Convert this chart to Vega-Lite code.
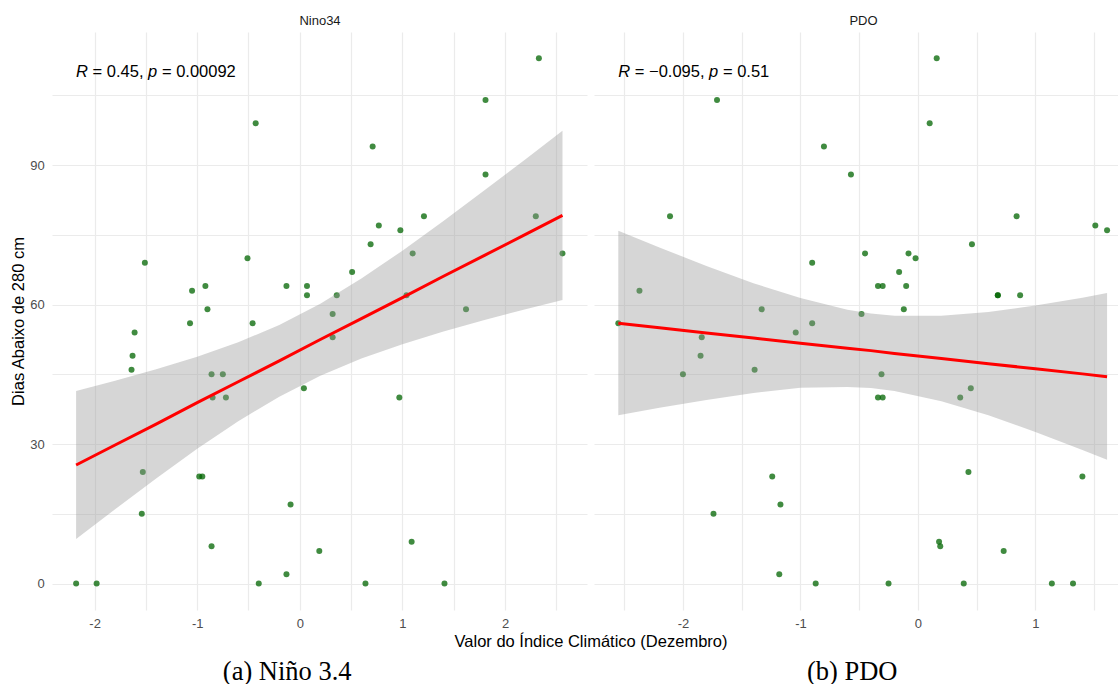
{
  "$schema": "https://vega.github.io/schema/vega-lite/v6.json",
  "background": "#FFFFFF",
  "padding": {"left": 10, "top": 14, "right": 0, "bottom": 0},
  "autosize": {"type": "pad"},
  "spacing": 7,
  "bounds": "flush",
  "config": {
    "view": {"stroke": null},
    "font": "Liberation Sans",
    "axis": {
      "domain": false,
      "ticks": false,
      "gridColor": "#EBEBEB",
      "gridWidth": 1.2,
      "labelColor": "#4D4D4D",
      "labelFontSize": 13,
      "labelFont": "Liberation Sans",
      "labelOverlap": false,
      "labelFlush": false,
      "titleFont": "Liberation Sans",
      "titleFontWeight": "normal",
      "titleColor": "#000000",
      "titleFontSize": 16.5
    },
    "text": {"font": "Liberation Sans", "fontSize": 16.5, "color": "#000000", "align": "left", "baseline": "middle"}
  },
  "datasets": {
    "pts": [
      {"indice": "Nino34", "x": 2.33, "dias": 113}, {"indice": "Nino34", "x": 1.81, "dias": 104},
      {"indice": "Nino34", "x": -0.43, "dias": 99}, {"indice": "Nino34", "x": 0.71, "dias": 94},
      {"indice": "Nino34", "x": 1.81, "dias": 88}, {"indice": "Nino34", "x": 2.30, "dias": 79},
      {"indice": "Nino34", "x": 1.21, "dias": 79}, {"indice": "Nino34", "x": 0.77, "dias": 77},
      {"indice": "Nino34", "x": 0.98, "dias": 76}, {"indice": "Nino34", "x": 0.69, "dias": 73},
      {"indice": "Nino34", "x": 1.10, "dias": 71}, {"indice": "Nino34", "x": 2.56, "dias": 71},
      {"indice": "Nino34", "x": -1.51, "dias": 69}, {"indice": "Nino34", "x": -0.51, "dias": 70},
      {"indice": "Nino34", "x": 0.51, "dias": 67}, {"indice": "Nino34", "x": -1.05, "dias": 63},
      {"indice": "Nino34", "x": -0.92, "dias": 64}, {"indice": "Nino34", "x": -0.13, "dias": 64},
      {"indice": "Nino34", "x": 0.07, "dias": 64}, {"indice": "Nino34", "x": 0.07, "dias": 62},
      {"indice": "Nino34", "x": 0.36, "dias": 62}, {"indice": "Nino34", "x": 1.04, "dias": 62},
      {"indice": "Nino34", "x": -0.90, "dias": 59}, {"indice": "Nino34", "x": 1.62, "dias": 59},
      {"indice": "Nino34", "x": 0.32, "dias": 58}, {"indice": "Nino34", "x": -1.07, "dias": 56},
      {"indice": "Nino34", "x": -0.46, "dias": 56}, {"indice": "Nino34", "x": -1.61, "dias": 54},
      {"indice": "Nino34", "x": 0.32, "dias": 53}, {"indice": "Nino34", "x": -1.63, "dias": 49},
      {"indice": "Nino34", "x": -1.64, "dias": 46}, {"indice": "Nino34", "x": -0.86, "dias": 45},
      {"indice": "Nino34", "x": -0.75, "dias": 45}, {"indice": "Nino34", "x": 0.04, "dias": 42},
      {"indice": "Nino34", "x": -0.85, "dias": 40}, {"indice": "Nino34", "x": -0.72, "dias": 40},
      {"indice": "Nino34", "x": 0.97, "dias": 40}, {"indice": "Nino34", "x": -1.53, "dias": 24},
      {"indice": "Nino34", "x": -0.98, "dias": 23}, {"indice": "Nino34", "x": -0.95, "dias": 23},
      {"indice": "Nino34", "x": -0.09, "dias": 17}, {"indice": "Nino34", "x": -1.54, "dias": 15},
      {"indice": "Nino34", "x": 1.09, "dias": 9}, {"indice": "Nino34", "x": -0.86, "dias": 8},
      {"indice": "Nino34", "x": 0.19, "dias": 7}, {"indice": "Nino34", "x": -0.13, "dias": 2},
      {"indice": "Nino34", "x": -2.18, "dias": 0}, {"indice": "Nino34", "x": -1.98, "dias": 0},
      {"indice": "Nino34", "x": -0.40, "dias": 0}, {"indice": "Nino34", "x": 0.64, "dias": 0},
      {"indice": "Nino34", "x": 1.41, "dias": 0},
      {"indice": "PDO", "x": 0.16, "dias": 113}, {"indice": "PDO", "x": -1.71, "dias": 104},
      {"indice": "PDO", "x": 0.10, "dias": 99}, {"indice": "PDO", "x": -0.80, "dias": 94},
      {"indice": "PDO", "x": -0.57, "dias": 88}, {"indice": "PDO", "x": -2.11, "dias": 79},
      {"indice": "PDO", "x": 0.84, "dias": 79}, {"indice": "PDO", "x": 1.51, "dias": 77},
      {"indice": "PDO", "x": 1.61, "dias": 76}, {"indice": "PDO", "x": 0.46, "dias": 73},
      {"indice": "PDO", "x": -0.45, "dias": 71}, {"indice": "PDO", "x": -0.08, "dias": 71},
      {"indice": "PDO", "x": -0.02, "dias": 70}, {"indice": "PDO", "x": -0.90, "dias": 69},
      {"indice": "PDO", "x": -0.16, "dias": 67}, {"indice": "PDO", "x": -0.34, "dias": 64},
      {"indice": "PDO", "x": -0.30, "dias": 64}, {"indice": "PDO", "x": -0.10, "dias": 64},
      {"indice": "PDO", "x": -2.37, "dias": 63}, {"indice": "PDO", "x": 0.68, "dias": 62},
      {"indice": "PDO", "x": 0.68, "dias": 62}, {"indice": "PDO", "x": 0.87, "dias": 62},
      {"indice": "PDO", "x": -1.33, "dias": 59}, {"indice": "PDO", "x": -0.12, "dias": 59},
      {"indice": "PDO", "x": -0.48, "dias": 58}, {"indice": "PDO", "x": -2.55, "dias": 56},
      {"indice": "PDO", "x": -0.90, "dias": 56}, {"indice": "PDO", "x": -1.04, "dias": 54},
      {"indice": "PDO", "x": -1.84, "dias": 53}, {"indice": "PDO", "x": -1.85, "dias": 49},
      {"indice": "PDO", "x": -1.39, "dias": 46}, {"indice": "PDO", "x": -2.00, "dias": 45},
      {"indice": "PDO", "x": -0.31, "dias": 45}, {"indice": "PDO", "x": 0.45, "dias": 42},
      {"indice": "PDO", "x": -0.34, "dias": 40}, {"indice": "PDO", "x": -0.30, "dias": 40},
      {"indice": "PDO", "x": 0.36, "dias": 40}, {"indice": "PDO", "x": 0.43, "dias": 24},
      {"indice": "PDO", "x": -1.24, "dias": 23}, {"indice": "PDO", "x": 1.40, "dias": 23},
      {"indice": "PDO", "x": -1.17, "dias": 17}, {"indice": "PDO", "x": -1.74, "dias": 15},
      {"indice": "PDO", "x": 0.18, "dias": 9}, {"indice": "PDO", "x": 0.19, "dias": 8},
      {"indice": "PDO", "x": 0.73, "dias": 7}, {"indice": "PDO", "x": -1.18, "dias": 2},
      {"indice": "PDO", "x": -0.87, "dias": 0}, {"indice": "PDO", "x": -0.25, "dias": 0},
      {"indice": "PDO", "x": 0.39, "dias": 0}, {"indice": "PDO", "x": 1.14, "dias": 0},
      {"indice": "PDO", "x": 1.32, "dias": 0}
    ],
    "band": [
      {"indice": "Nino34", "x": -2.18, "lo": 9.6, "hi": 41.4, "fit": 25.5},
      {"indice": "Nino34", "x": -1.8, "lo": 16.0, "hi": 43.6, "fit": 29.8},
      {"indice": "Nino34", "x": -1.4, "lo": 22.6, "hi": 46.1, "fit": 34.3},
      {"indice": "Nino34", "x": -1.0, "lo": 29.0, "hi": 48.8, "fit": 38.9},
      {"indice": "Nino34", "x": -0.6, "lo": 34.9, "hi": 51.9, "fit": 43.4},
      {"indice": "Nino34", "x": -0.2, "lo": 40.2, "hi": 55.6, "fit": 47.9},
      {"indice": "Nino34", "x": 0.2, "lo": 44.7, "hi": 60.2, "fit": 52.5},
      {"indice": "Nino34", "x": 0.6, "lo": 48.4, "hi": 65.6, "fit": 57.0},
      {"indice": "Nino34", "x": 1.0, "lo": 51.5, "hi": 71.6, "fit": 61.5},
      {"indice": "Nino34", "x": 1.4, "lo": 54.2, "hi": 78.0, "fit": 66.1},
      {"indice": "Nino34", "x": 1.8, "lo": 56.7, "hi": 84.6, "fit": 70.6},
      {"indice": "Nino34", "x": 2.2, "lo": 59.0, "hi": 91.3, "fit": 75.1},
      {"indice": "Nino34", "x": 2.56, "lo": 61.0, "hi": 97.4, "fit": 79.2},
      {"indice": "PDO", "x": -2.55, "lo": 36.2, "hi": 75.9, "fit": 56.0},
      {"indice": "PDO", "x": -2.2, "lo": 37.8, "hi": 72.3, "fit": 55.0},
      {"indice": "PDO", "x": -1.8, "lo": 39.5, "hi": 68.3, "fit": 53.9},
      {"indice": "PDO", "x": -1.4, "lo": 41.0, "hi": 64.6, "fit": 52.8},
      {"indice": "PDO", "x": -1.0, "lo": 42.1, "hi": 61.4, "fit": 51.7},
      {"indice": "PDO", "x": -0.6, "lo": 42.3, "hi": 58.9, "fit": 50.6},
      {"indice": "PDO", "x": -0.4, "lo": 42.05, "hi": 58.1, "fit": 50.1},
      {"indice": "PDO", "x": -0.2, "lo": 41.4, "hi": 57.6, "fit": 49.5},
      {"indice": "PDO", "x": 0.2, "lo": 39.2, "hi": 57.6, "fit": 48.4},
      {"indice": "PDO", "x": 0.6, "lo": 36.2, "hi": 58.4, "fit": 47.3},
      {"indice": "PDO", "x": 1.0, "lo": 32.6, "hi": 59.8, "fit": 46.2},
      {"indice": "PDO", "x": 1.4, "lo": 28.7, "hi": 61.5, "fit": 45.1},
      {"indice": "PDO", "x": 1.61, "lo": 26.6, "hi": 62.5, "fit": 44.5}
    ],
    "annL": [{"x": -2.18, "y": 110}],
    "annR": [{"x": -2.55, "y": 110}]
  },
  "hconcat": [
    {
      "width": 535,
      "height": 578,
      "title": {"text": "(a) Niño 3.4", "orient": "bottom", "anchor": "middle", "offset": 9.2, "dx": -32.3, "font": "Liberation Serif", "fontSize": 26.5, "fontWeight": "normal", "color": "#000000"},
      "resolve": {"axis": {"x": "independent", "y": "independent"}},
      "encoding": {
        "x": {"field": "x", "type": "quantitative", "scale": {"domain": [-2.415, 2.799], "nice": false, "zero": false}, "axis": null}
      },
      "layer": [
        {
          "data": {"name": "pts"},
          "transform": [{"filter": "datum.indice === 'Nino34'"}],
          "mark": {"type": "circle", "size": 36, "color": "#006400", "opacity": 0.75},
          "encoding": {
            "x": {"field": "x", "type": "quantitative", "scale": {"domain": [-2.415, 2.799], "nice": false, "zero": false},
              "axis": {"orient": "bottom", "values": [-2, -1.5, -1, -0.5, 0, 0.5, 1, 1.5, 2, 2.5], "labelExpr": "datum.value % 1 === 0 ? '' + datum.value : ''", "labelPadding": 7, "grid": true,
                "title": "Valor do Índice Climático (Dezembro)", "titleX": 538.5, "titleY": 36, "titleAlign": "center", "titleBaseline": "alphabetic", "titleAnchor": null}},
            "y": {"field": "dias", "type": "quantitative", "scale": {"domain": [-5.7, 118.65], "nice": false, "zero": false},
              "axis": {"values": [0, 15, 30, 45, 60, 75, 90, 105], "labelExpr": "datum.value % 30 === 0 ? '' + datum.value : ''", "labelPadding": 7.8, "grid": true,
                "title": "Dias Abaixo de 280 cm", "titleX": -28.5, "titleY": 289, "titleAlign": "center", "titleBaseline": "alphabetic", "titleAngle": -90, "titleAnchor": null}}
          }
        },
        {
          "data": {"name": "band"},
          "transform": [{"filter": "datum.indice === 'Nino34'"}],
          "mark": {"type": "area", "color": "#999999", "opacity": 0.4},
          "encoding": {
            "x": {"field": "x", "type": "quantitative", "scale": {"domain": [-2.415, 2.799], "nice": false, "zero": false},
              "axis": {"orient": "top", "title": "Nino34", "labels": false, "grid": false, "titleY": -7.2, "titleBaseline": "alphabetic", "titleFontSize": 13, "titleColor": "#1A1A1A"}},
            "y": {"field": "lo", "type": "quantitative", "scale": {"domain": [-5.7, 118.65], "nice": false, "zero": false}, "axis": null},
            "y2": {"field": "hi"}
          }
        },
        {
          "data": {"name": "band"},
          "transform": [{"filter": "datum.indice === 'Nino34'"}],
          "mark": {"type": "line", "color": "#FF0000", "strokeWidth": 3},
          "encoding": {
            "y": {"field": "fit", "type": "quantitative", "scale": {"domain": [-5.7, 118.65], "nice": false, "zero": false}, "axis": null}
          }
        },
        {
          "data": {"name": "annL"},
          "mark": {"type": "text", "fontStyle": "italic", "text": "R", "dx": 0},
          "encoding": {"y": {"field": "y", "type": "quantitative", "scale": {"domain": [-5.7, 118.65], "nice": false, "zero": false}, "axis": null}}
        },
        {
          "data": {"name": "annL"},
          "mark": {"type": "text", "text": "= 0.45,", "dx": 16.5},
          "encoding": {"y": {"field": "y", "type": "quantitative", "scale": {"domain": [-5.7, 118.65], "nice": false, "zero": false}, "axis": null}}
        },
        {
          "data": {"name": "annL"},
          "mark": {"type": "text", "fontStyle": "italic", "text": "p", "dx": 72.0},
          "encoding": {"y": {"field": "y", "type": "quantitative", "scale": {"domain": [-5.7, 118.65], "nice": false, "zero": false}, "axis": null}}
        },
        {
          "data": {"name": "annL"},
          "mark": {"type": "text", "text": "= 0.00092", "dx": 85.8},
          "encoding": {"y": {"field": "y", "type": "quantitative", "scale": {"domain": [-5.7, 118.65], "nice": false, "zero": false}, "axis": null}}
        }
      ]
    },
    {
      "width": 524,
      "height": 578,
      "title": {"text": "(b) PDO", "orient": "bottom", "anchor": "middle", "offset": 28.5, "dx": -3.8, "font": "Liberation Serif", "fontSize": 26.5, "fontWeight": "normal", "color": "#000000"},
      "resolve": {"axis": {"x": "independent", "y": "independent"}},
      "encoding": {
        "x": {"field": "x", "type": "quantitative", "scale": {"domain": [-2.757, 1.703], "nice": false, "zero": false}, "axis": null}
      },
      "layer": [
        {
          "data": {"name": "pts"},
          "transform": [{"filter": "datum.indice === 'PDO'"}],
          "mark": {"type": "circle", "size": 36, "color": "#006400", "opacity": 0.75},
          "encoding": {
            "x": {"field": "x", "type": "quantitative", "scale": {"domain": [-2.757, 1.703], "nice": false, "zero": false},
              "axis": {"orient": "bottom", "values": [-2.5, -2, -1.5, -1, -0.5, 0, 0.5, 1, 1.5], "labelExpr": "datum.value % 1 === 0 ? '' + datum.value : ''", "labelPadding": 7, "grid": true, "title": null}},
            "y": {"field": "dias", "type": "quantitative", "scale": {"domain": [-5.7, 118.65], "nice": false, "zero": false},
              "axis": {"values": [0, 15, 30, 45, 60, 75, 90, 105], "labels": false, "grid": true, "title": null}}
          }
        },
        {
          "data": {"name": "band"},
          "transform": [{"filter": "datum.indice === 'PDO'"}],
          "mark": {"type": "area", "color": "#999999", "opacity": 0.4},
          "encoding": {
            "x": {"field": "x", "type": "quantitative", "scale": {"domain": [-2.757, 1.703], "nice": false, "zero": false},
              "axis": {"orient": "top", "title": "PDO", "labels": false, "grid": false, "titleX": 269, "titleY": -7.2, "titleAlign": "center", "titleAnchor": null, "titleBaseline": "alphabetic", "titleFontSize": 13, "titleColor": "#1A1A1A"}},
            "y": {"field": "lo", "type": "quantitative", "scale": {"domain": [-5.7, 118.65], "nice": false, "zero": false}, "axis": null},
            "y2": {"field": "hi"}
          }
        },
        {
          "data": {"name": "band"},
          "transform": [{"filter": "datum.indice === 'PDO'"}],
          "mark": {"type": "line", "color": "#FF0000", "strokeWidth": 3},
          "encoding": {
            "y": {"field": "fit", "type": "quantitative", "scale": {"domain": [-5.7, 118.65], "nice": false, "zero": false}, "axis": null}
          }
        },
        {
          "data": {"name": "annR"},
          "mark": {"type": "text", "fontStyle": "italic", "text": "R", "dx": 0},
          "encoding": {"y": {"field": "y", "type": "quantitative", "scale": {"domain": [-5.7, 118.65], "nice": false, "zero": false}, "axis": null}}
        },
        {
          "data": {"name": "annR"},
          "mark": {"type": "text", "text": "= −0.095,", "dx": 16.5},
          "encoding": {"y": {"field": "y", "type": "quantitative", "scale": {"domain": [-5.7, 118.65], "nice": false, "zero": false}, "axis": null}}
        },
        {
          "data": {"name": "annR"},
          "mark": {"type": "text", "fontStyle": "italic", "text": "p", "dx": 90.8},
          "encoding": {"y": {"field": "y", "type": "quantitative", "scale": {"domain": [-5.7, 118.65], "nice": false, "zero": false}, "axis": null}}
        },
        {
          "data": {"name": "annR"},
          "mark": {"type": "text", "text": "= 0.51", "dx": 104.6},
          "encoding": {"y": {"field": "y", "type": "quantitative", "scale": {"domain": [-5.7, 118.65], "nice": false, "zero": false}, "axis": null}}
        }
      ]
    }
  ]
}
